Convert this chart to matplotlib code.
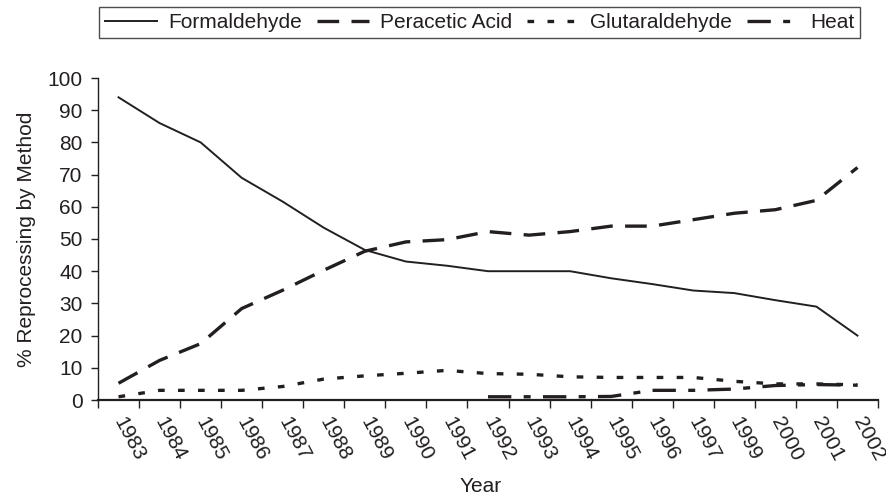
import numpy as np
import matplotlib
matplotlib.use("Agg")
import matplotlib.pyplot as plt
from matplotlib.ticker import FixedLocator, NullFormatter

years = ['1983', '1984', '1985', '1986', '1987', '1988', '1989', '1990', '1991', '1992',
         '1993', '1994', '1995', '1996', '1997', '1999', '2000', '2001', '2002']
formaldehyde = [94, 86, 80, 69, 61.6, 53.5, 46.6, 43, 41.7, 40, 40, 40, 37.8, 36, 34, 33.2, 31, 29, 20]
peracetic = [5.2, 12.3, 17.5, 28.4, 34.1, 40.3, 46.2, 49.1, 49.8, 52.3, 51.2, 52.3, 54, 54, 56, 58, 59.1, 62, 72.2]
glutaraldehyde = [1, 3, 3, 3, 4.2, 6.5, 7.5, 8.3, 9.2, 8.2, 8, 7.2, 7, 7, 7, 5.8, 5, 5, 4.7]
heat = [np.nan] * 9 + [1, 1, 1, 1.1, 3, 3, 3.4, 4.5, 4.8, 4.6]

ink = '#231f20'
plt.rcParams['font.family'] = ['Liberation Sans', 'DejaVu Sans']
fs = 15

fig = plt.figure(figsize=(8.86, 4.98), dpi=100)
ax = fig.add_axes([98 / 886, 98 / 498, 780 / 886, 322 / 498])

x = np.arange(len(years))
lw_d = 2.4
ax.plot(x, formaldehyde, color=ink, lw=1.4, label='Formaldehyde')
ax.plot(x, peracetic, color=ink, lw=lw_d, linestyle=(0, (6.5, 3.7)), label='Peracetic Acid')
ax.plot(x, glutaraldehyde, color=ink, lw=lw_d, linestyle=(0, (2.0, 4.0)), label='Glutaraldehyde')
ax.plot(x, heat, color=ink, lw=lw_d, linestyle=(0, (7, 3.7, 2.1, 3.7)), label='Heat')

ax.set_xlim(-0.5, len(years) - 0.5)
ax.set_ylim(0, 100)
ax.set_yticks(np.arange(0, 101, 10))

ax.xaxis.set_major_locator(FixedLocator(np.arange(-0.5, len(years), 1.0)))
ax.xaxis.set_major_formatter(NullFormatter())
ax.xaxis.set_minor_locator(FixedLocator(x))
ax.set_xticklabels(years, minor=True, rotation=-62, rotation_mode='anchor', ha='left', va='center')
ax.tick_params(axis='x', which='minor', length=0, pad=13, labelsize=fs, colors=ink)
ax.tick_params(axis='x', which='major', length=6, width=1, direction='out', color=ink)
ax.tick_params(axis='y', length=5, width=1, direction='out', pad=6, labelsize=fs, colors=ink)

for s in ['top', 'right']:
    ax.spines[s].set_visible(False)
ax.spines['left'].set_color(ink)
ax.spines['bottom'].set_color(ink)
ax.spines['left'].set_linewidth(1.0)
ax.spines['bottom'].set_linewidth(1.6)

ax.set_ylabel('% Reprocessing by Method', fontsize=fs, color=ink, labelpad=8)
ax.set_xlabel('Year', fontsize=fs, color=ink)
ax.xaxis.set_label_coords(0.491, -0.24)

leg = ax.legend(loc='upper left', bbox_to_anchor=(99 / 886, 1 - 7 / 498), bbox_transform=fig.transFigure,
                ncol=4, frameon=True, fancybox=False, fontsize=fs, handlelength=2.5,
                handletextpad=0.5, columnspacing=0.75, borderpad=0.3, borderaxespad=0)
leg.get_frame().set_edgecolor(ink)
leg.get_frame().set_linewidth(1.0)
for t in leg.get_texts():
    t.set_color(ink)

fig.savefig('out.png', dpi=100)
